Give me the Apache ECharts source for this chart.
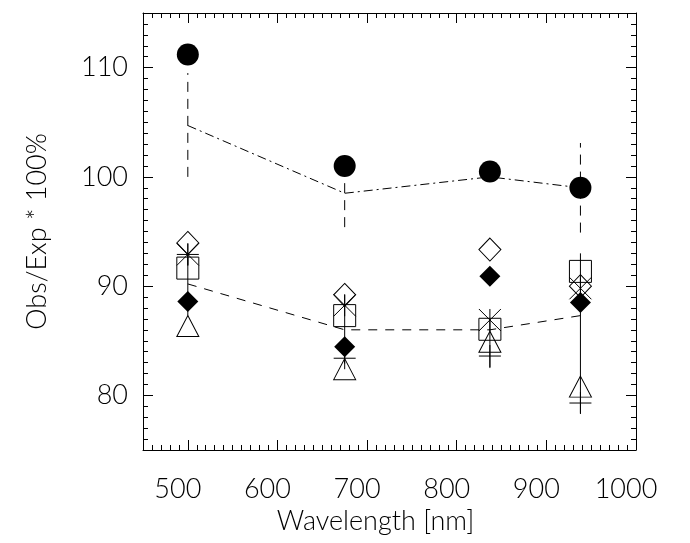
<!DOCTYPE html>
<html>
<head>
<meta charset="utf-8">
<script src="https://cdn.jsdelivr.net/npm/echarts@6/dist/echarts.min.js"></script>
<style>
  html, body { margin: 0; padding: 0; background: #fff; }
  #main { width: 690px; height: 543px; }
</style>
</head>
<body>
<div id="main"></div>
<script>
// wavelengths of the four bands [nm]
const wavelengths = [500, 675, 837, 938];

// upper group: filled circles, dash-dot model and dashed error bars
const circleVals = [111.2, 101.0, 100.5, 99.0];
const upperModel = [104.7, 98.5, 100.0, 99.0];
const upperErrLow = [100.0, 95.4, 99.6, 94.9];
const upperErrHigh = [109.5, 101.6, 100.4, 103.1];

// lower group: dashed model and solid error bars
const lowerModel = [90.2, 86.0, 86.0, 87.3];
const lowerErrLow = [87.3, 82.9, 82.5, 78.4];
const lowerErrHigh = [92.9, 89.2, 86.9, 93.0];

// individual measurements (symbols)
const openDiamondVals = [93.95, 89.2, 93.35, 90.0];
const asteriskVals = [92.9, 88.25, 86.9, 89.8];
const squareVals = [91.65, 87.3, 86.05, 91.35];
const filledDiamondVals = [88.6, 84.45, 90.9, 88.5];
const triangleVals = [86.35, 82.4, 84.9, 80.8];
const plusVals = [92.9, 83.4, 83.6, 79.3];

// tick labels
const xTickVals = [500, 600, 700, 800, 900, 1000];
const yTickVals = [80, 90, 100, 110];

const FONT = "Lato, 'DejaVu Sans', sans-serif";
const txt = { color: '#000', fontFamily: FONT, fontWeight: 300, fontSize: 27 };

const chart = echarts.init(document.getElementById('main'), null, { renderer: 'canvas' });

function pairs(vals) {
    return wavelengths.map((w, i) => [w, vals[i]]);
}

function xAxisCfg(pos, major, labels) {
    return {
        type: 'value', position: pos, min: 450, max: 1000, interval: 10,
        axisLine: { show: !major, onZero: false, lineStyle: { color: '#000', width: 1 } },
        axisTick: major
            ? { show: true, inside: true, length: 10, customValues: xTickVals, lineStyle: { color: '#000' } }
            : { show: true, inside: true, length: 5, lineStyle: { color: '#000' } },
        axisLabel: labels
            ? Object.assign({
                show: true, customValues: xTickVals, margin: 26,
                padding: [0, 20, 0, 0],
                formatter: v => String(v)
            }, txt)
            : { show: false },
        splitLine: { show: false }
    };
}

function yAxisCfg(pos, major, labels) {
    return {
        type: 'value', position: pos, min: 75, max: 115, interval: 1,
        axisLine: { show: !major, onZero: false, lineStyle: { color: '#000', width: 1 } },
        axisTick: major
            ? { show: true, inside: true, length: 10, customValues: yTickVals, lineStyle: { color: '#000' } }
            : { show: true, inside: true, length: 5, lineStyle: { color: '#000' } },
        axisLabel: labels
            ? Object.assign({ show: true, customValues: yTickVals, margin: 15, formatter: v => String(v) }, txt)
            : { show: false },
        splitLine: { show: false }
    };
}

const xBottom = xAxisCfg('bottom', false, true);
xBottom.name = 'Wavelength [nm]';
xBottom.nameLocation = 'middle';
xBottom.nameGap = 55;
xBottom.nameTextStyle = Object.assign({ padding: [0, 28, 0, 0] }, txt);

const yLeft = yAxisCfg('left', false, true);
yLeft.name = 'Obs/Exp * 100%';
yLeft.nameLocation = 'middle';
yLeft.nameGap = 92;
yLeft.nameRotate = 90;
yLeft.nameTextStyle = txt;

function errBars(lo, hi, dash) {
    return {
        type: 'custom',
        silent: true,
        data: wavelengths.map((w, i) => [w, lo[i], hi[i]]),
        encode: { x: 0, y: [1, 2] },
        renderItem: function (params, api) {
            const p1 = api.coord([api.value(0), api.value(1)]);
            const p2 = api.coord([api.value(0), api.value(2)]);
            return {
                type: 'line',
                shape: { x1: p1[0], y1: p1[1], x2: p2[0], y2: p2[1] },
                style: { stroke: '#000', lineWidth: 1, lineDash: dash }
            };
        }
    };
}

function markers(vals, symbol, size, filled) {
    return {
        type: 'scatter',
        data: pairs(vals),
        symbol: symbol,
        symbolSize: size,
        silent: true,
        itemStyle: filled
            ? { color: '#000', borderWidth: 0, opacity: 1 }
            : { color: 'rgba(0,0,0,0)', borderColor: '#000', borderWidth: 1, opacity: 1 }
    };
}

const option = {
    backgroundColor: '#fff',
    animation: false,
    grid: { left: 143, right: 54, top: 13, bottom: 93, containLabel: false },
    xAxis: [
        xBottom,
        xAxisCfg('bottom', true, false),
        xAxisCfg('top', false, false),
        xAxisCfg('top', true, false)
    ],
    yAxis: [
        yLeft,
        yAxisCfg('left', true, false),
        yAxisCfg('right', false, false),
        yAxisCfg('right', true, false)
    ],
    series: [
        errBars(upperErrLow, upperErrHigh, [10, 7]),
        errBars(lowerErrLow, lowerErrHigh, null),
        {
            type: 'line', data: pairs(upperModel), symbol: 'none', silent: true,
            lineStyle: { color: '#000', width: 1, type: [9, 4, 2, 4] }
        },
        {
            type: 'line', data: pairs(lowerModel), symbol: 'none', silent: true,
            lineStyle: { color: '#000', width: 1, type: [9, 8] }
        },
        markers(openDiamondVals, 'diamond', [22, 23], false),
        markers(squareVals, 'rect', 22, false),
        markers(triangleVals, 'triangle', [22, 21], false),
        markers(asteriskVals, 'path://M1,0L1,2M0,0L2,2M2,0L0,2', 22, false),
        markers(plusVals, 'path://M1,0L1,2M0,1L2,1', 22, false),
        markers(filledDiamondVals, 'diamond', [21, 21], true),
        markers(circleVals, 'circle', 22, true)
    ]
};

chart.setOption(option);
</script>
</body>
</html>
